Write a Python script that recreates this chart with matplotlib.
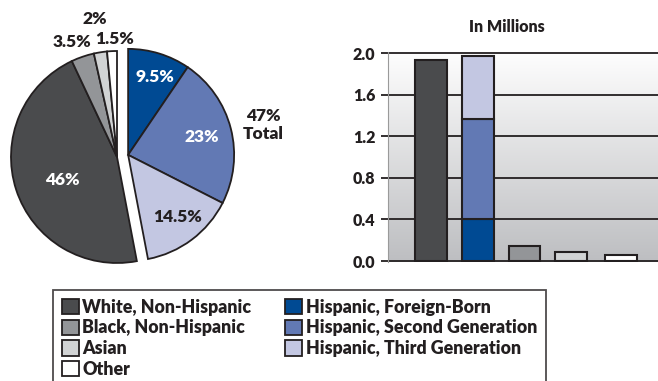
import matplotlib
matplotlib.use('Agg')
import matplotlib.pyplot as plt
from matplotlib.colors import LinearSegmentedColormap
from matplotlib.patches import Patch
import numpy as np

plt.rcParams['font.family'] = ['Lato', 'DejaVu Sans']
plt.rcParams['font.weight'] = 'heavy'

INK = '#231f20'

# groups, clockwise from 12 o'clock
groups = ['Hispanic, Foreign-Born', 'Hispanic, Second Generation', 'Hispanic, Third Generation',
          'White, Non-Hispanic', 'Black, Non-Hispanic', 'Asian', 'Other']
colors = ['#004a93', '#6279b4', '#c3c7e2', '#4a4b4d', '#939598', '#d1d3d4', '#ffffff']
shares = [9.5, 23, 14.5, 46, 3.5, 2, 1.5]  # percent
hispanic_total = '47%\nTotal'

# bar chart (millions)
bar_labels = ['White', 'Hispanic', 'Black', 'Asian', 'Other']
white_m = 1.93
hisp_fb_m = 0.40
hisp_2nd_m = 0.965
hisp_3rd_m = 0.61
others_m = [0.147, 0.088, 0.055]
yticks = [0.0, 0.4, 0.8, 1.2, 1.6, 2.0]

W, H = 658, 381
fig = plt.figure(figsize=(W / 100, H / 100), dpi=100)

# ---- pie ----
R = 106.0  # px per unit radius
cx, cy = 117, 157
axp = fig.add_axes([0, 0, 0.5, 1])
wedges, _ = axp.pie(shares, colors=colors, startangle=90, counterclock=False,
                    wedgeprops=dict(edgecolor=INK, linewidth=1.3))
# pull the three Hispanic slices out together
for w in wedges[:3]:
    w.set_center((0.105, 0.02))
axp.set_aspect('auto')
axp.set_xlim(-cx / R, (W * 0.5 - cx) / R)
axp.set_ylim(-(H - cy) / R, cy / R)
axp.axis('off')


def px(x, y):
    return (x - cx) / R, (cy - y) / R


pct_pos = [(155, 77), (202, 137), (178, 217), (62, 180), (72, 42), (95, 19), (115, 39)]
pct_col = ['white', 'white', INK, 'white', INK, INK, INK]
for s, (x, y), c in zip(shares, pct_pos, pct_col):
    axp.text(*px(x, y), f'{s:g}%', color=c, fontsize=12.5, ha='center', va='center')
axp.text(*px(263, 125), hispanic_total, color=INK, fontsize=12.5, ha='center', va='center',
         linespacing=1.15)

# ---- bars ----
x0, x1 = 388, 658
y0, y1 = 261, 53
axb = fig.add_axes([x0 / W, 1 - (y0 + 1.04) / H, (x1 - x0) / W, (y0 - y1 + 2.08) / H])
xlim = (-0.92, 4.86)
ylim = (-0.01, 2.01)
grad = np.linspace(0, 1, 256).reshape(-1, 1)
cmap = LinearSegmentedColormap.from_list('bg', ['#fefefe', '#bdbec1'])
axb.imshow(grad, cmap=cmap, extent=(*xlim, *ylim), aspect='auto', zorder=0, origin='upper')

bw = 0.68
ekw = dict(edgecolor=INK, linewidth=1.5, width=bw, zorder=3)
axb.bar(0, white_m, color=colors[3], **ekw)
axb.bar(1, hisp_fb_m, color=colors[0], **ekw)
axb.bar(1, hisp_2nd_m, bottom=hisp_fb_m, color=colors[1], **ekw)
axb.bar(1, hisp_3rd_m, bottom=hisp_fb_m + hisp_2nd_m, color=colors[2], **ekw)
axb.bar([2, 3, 4.06], others_m, color=colors[4:], **ekw)

axb.set_xlim(*xlim)
axb.set_ylim(*ylim)
axb.set_yticks(yticks)
axb.set_yticklabels([f'{v:.1f}' for v in yticks], fontsize=11.5, color=INK)
axb.set_xticks([])
for y in yticks:
    axb.axhline(y, color=INK, linewidth=1.3, zorder=2)
for side in ['top', 'right', 'bottom']:
    axb.spines[side].set_visible(False)
axb.spines['left'].set_color('#9a9a9a')
axb.spines['left'].set_linewidth(0.8)
axb.tick_params(axis='y', length=5, width=1.3, color=INK, pad=4)
fig.text(507 / W, 1 - 27 / H, 'In Millions', ha='center', va='center', fontsize=11.5, color=INK)

# ---- legend ----
order = [3, 4, 5, 6, 0, 1, 2]
handles = [Patch(facecolor=colors[i], edgecolor=INK, linewidth=1.3, label=groups[i]) for i in order]
leg = fig.legend(handles=handles, loc='upper left', bbox_to_anchor=(53 / W, 1 - 290 / H),
                 ncol=2, fontsize=12.8, frameon=True, fancybox=False, borderpad=0.5,
                 handlelength=0.95, handleheight=0.95, handletextpad=0.2, labelspacing=0.2,
                 columnspacing=1.9, borderaxespad=0)
leg.get_frame().set_edgecolor(INK)
leg.get_frame().set_linewidth(1.3)
for t in leg.get_texts():
    t.set_color(INK)

fig.savefig('out.png', dpi=100)
